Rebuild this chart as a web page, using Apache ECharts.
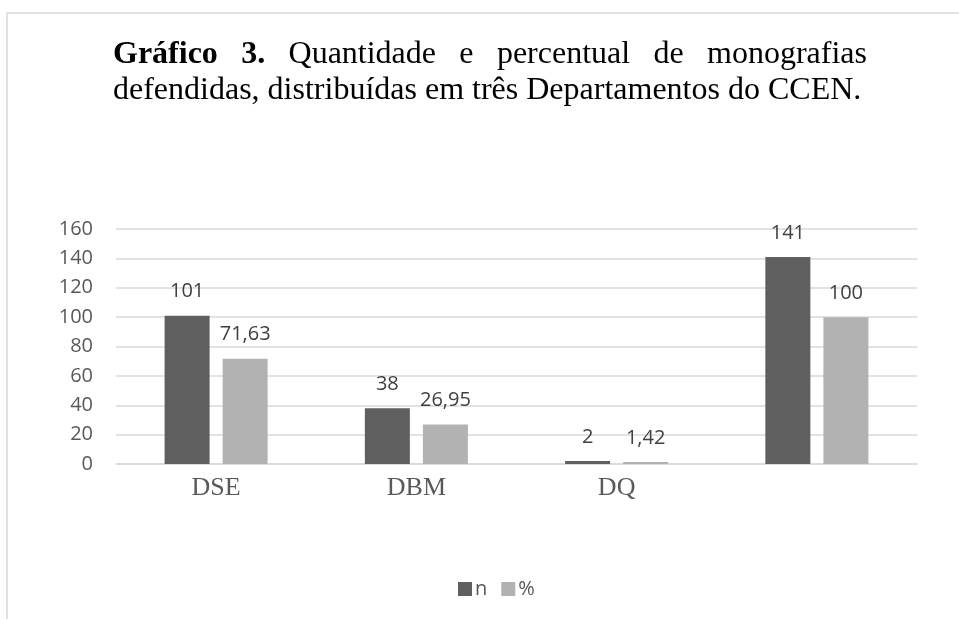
<!DOCTYPE html>
<html>
<head>
<meta charset="utf-8">
<script src="https://cdn.jsdelivr.net/npm/echarts@6/dist/echarts.min.js"></script>
<style>
html,body{margin:0;padding:0;background:#fff;}
#chart{width:959px;height:619px;}
</style>
</head>
<body>
<div id="chart"></div>
<script>
const categories = ['DSE', 'DBM', 'DQ', ''];
const seriesNames = ['n', '%'];
const valuesN = [101, 38, 2, 141];
const valuesPct = [71.63, 26.95, 1.42, 100];
const yTicks = { min: 0, max: 160, interval: 20 };
const titleLine1 = [
  { t: 'Gráfico', bold: true }, { t: '3.', bold: true }, { t: 'Quantidade' },
  { t: 'e' }, { t: 'percentual' }, { t: 'de' }, { t: 'monografias' }
];
const titleLine2 = 'defendidas, distribuídas em três Departamentos do CCEN.';

const SERIF = '"Liberation Serif", "Times New Roman", serif';
const SANS = '"Open Sans", "Noto Sans", sans-serif';
const TSIZE = 32;

// justify first title line between x0 and x1
const cv = document.createElement('canvas').getContext('2d');
function w(word, bold) {
  cv.font = (bold ? 'bold ' : '') + TSIZE + 'px ' + SERIF;
  return cv.measureText(word).width;
}
const x0 = 113, x1 = 867;
const widths = titleLine1.map(o => w(o.t, o.bold));
const totalW = widths.reduce((a, b) => a + b, 0);
const gap = (x1 - x0 - totalW) / (titleLine1.length - 1);
const titleEls = [];
let cx = x0;
titleLine1.forEach((o, i) => {
  titleEls.push({
    type: 'text', left: cx, top: 39,
    style: { text: o.t, font: (o.bold ? 'bold ' : '') + TSIZE + 'px ' + SERIF, fill: '#000' }
  });
  cx += widths[i] + gap;
});
titleEls.push({
  type: 'text', left: x0, top: 75,
  style: { text: titleLine2, font: TSIZE + 'px ' + SERIF, fill: '#000' }
});

const fmt = v => String(v).replace('.', ',');

const chart = echarts.init(document.getElementById('chart'), null, { renderer: 'canvas' });
chart.setOption({
  animation: false,
  backgroundColor: '#fff',
  graphic: [
    { type: 'rect', shape: { x: 7, y: 13, width: 1000, height: 700 },
      style: { fill: 'none', stroke: '#d9d9d9', lineWidth: 1.5 }, silent: true },
    ...titleEls
  ],
  grid: { left: 116, right: 42, top: 229, bottom: 155, containLabel: false },
  legend: {
    data: seriesNames,
    left: 453, top: 574,
    itemWidth: 14, itemHeight: 14, itemGap: 14,
    icon: 'rect',
    textStyle: { fontFamily: SANS, fontSize: 20, color: '#595959', padding: [0, 0, 0, -2] }
  },
  xAxis: {
    type: 'category',
    data: categories,
    axisLine: { lineStyle: { color: '#d9d9d9', width: 1.5 } },
    axisTick: { show: false },
    axisLabel: { fontFamily: SERIF, fontSize: 26, color: '#595959', margin: 11 }
  },
  yAxis: {
    type: 'value',
    min: yTicks.min, max: yTicks.max, interval: yTicks.interval,
    axisLine: { show: false },
    axisTick: { show: false },
    splitLine: { lineStyle: { color: '#d9d9d9', width: 1.5 } },
    axisLabel: { fontFamily: SANS, fontSize: 20, color: '#595959', margin: 23 }
  },
  series: [
    {
      name: seriesNames[0], type: 'bar', data: valuesN,
      barWidth: 45, barGap: '29%',
      itemStyle: { color: '#5f5f5f' },
      label: { show: true, position: 'top', distance: 14, fontFamily: SANS, fontSize: 20, color: '#404040', formatter: p => fmt(p.value) }
    },
    {
      name: seriesNames[1], type: 'bar', data: valuesPct,
      barWidth: 45,
      itemStyle: { color: '#b2b2b2' },
      label: { show: true, position: 'top', distance: 14, fontFamily: SANS, fontSize: 20, color: '#404040', formatter: p => fmt(p.value) }
    }
  ]
});
</script>
</body>
</html>
